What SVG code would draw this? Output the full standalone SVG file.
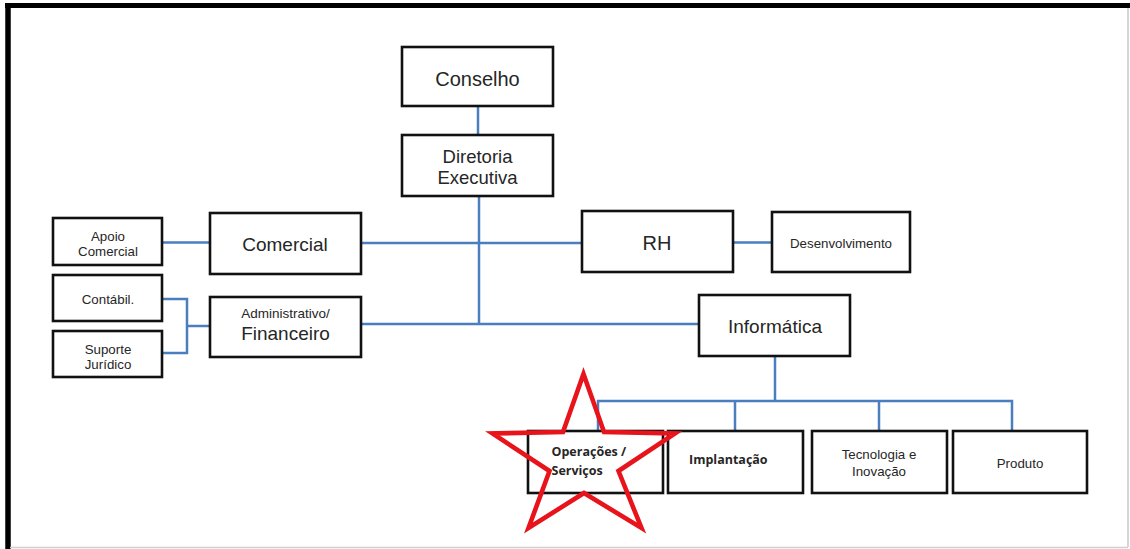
<svg xmlns="http://www.w3.org/2000/svg" width="1130" height="549" viewBox="0 0 1130 549">
<style>
.box{fill:#fff;stroke:#111;stroke-width:2.6}
.t{font-family:"Liberation Sans",Arial,sans-serif;fill:#262626;text-anchor:middle}
.big{font-size:19px}
.sm{font-size:13.3px}
.cb{font-family:"Open Sans","Liberation Sans",sans-serif;font-weight:700;font-size:12.5px;fill:#262626}
.ln{fill:none;stroke:#4a7ebf;stroke-width:2.5}
</style>
<rect x="0" y="0" width="1130" height="549" fill="#fff"/>
<g id="frame">
<line x1="5" y1="5.5" x2="1130" y2="5.5" stroke="#000" stroke-width="5"/>
<line x1="8" y1="3" x2="8" y2="549" stroke="#000" stroke-width="5.5"/>
<line x1="1128" y1="8" x2="1128" y2="547" stroke="#c8c8c8" stroke-width="1.5"/>
<line x1="10" y1="547.5" x2="1128" y2="547.5" stroke="#d0d0d0" stroke-width="1.5"/>
</g>
<g id="connectors">
<line class="ln" x1="478" y1="106" x2="478" y2="135"/>
<line class="ln" x1="479" y1="197" x2="479" y2="324"/>
<line class="ln" x1="361" y1="243" x2="582" y2="243"/>
<line class="ln" x1="361" y1="324" x2="699" y2="324"/>
<line class="ln" x1="162" y1="242.5" x2="210" y2="242.5"/>
<line class="ln" x1="733" y1="242.5" x2="772" y2="242.5"/>
<polyline class="ln" points="162,299 187,299 187,353 162,353"/>
<line class="ln" x1="187" y1="326" x2="210" y2="326"/>
<line class="ln" x1="775" y1="357" x2="775" y2="401"/>
<polyline class="ln" points="598,431 598,401 1012,401 1012,431"/>
<line class="ln" x1="735" y1="401" x2="735" y2="431"/>
<line class="ln" x1="879" y1="401" x2="879" y2="431"/>
</g>
<g id="conselho"><rect class="box" x="402" y="47" width="151" height="59"/><text class="t" x="477.5" y="85.5" font-size="20">Conselho</text></g>
<g id="diretoria"><rect class="box" x="402" y="135" width="151" height="61"/><text class="t" font-size="18.5" x="477.5" y="163">Diretoria</text><text class="t" font-size="18.5" x="477.5" y="184">Executiva</text></g>
<g id="apoio"><rect class="box" x="53" y="218" width="109" height="47"/><text class="t sm" x="108" y="240.6">Apoio</text><text class="t sm" x="108" y="256">Comercial</text></g>
<g id="comercial"><rect class="box" x="210" y="213" width="151" height="61"/><text class="t big" x="285" y="251">Comercial</text></g>
<g id="contabil"><rect class="box" x="53" y="275" width="109" height="46"/><text class="t sm" x="108" y="304">Contábil.</text></g>
<g id="suporte"><rect class="box" x="53" y="331" width="109" height="46"/><text class="t sm" x="108" y="353.5">Suporte</text><text class="t sm" x="108" y="368.6">Jurídico</text></g>
<g id="administrativo"><rect class="box" x="210" y="297" width="151" height="60"/><text class="t" x="285.5" y="318" font-size="13.5">Administrativo/</text><text class="t big" x="285.5" y="339.5">Financeiro</text></g>
<g id="rh"><rect class="box" x="582" y="211" width="151" height="61"/><text class="t" x="657" y="250" font-size="20">RH</text></g>
<g id="desenvolvimento"><rect class="box" x="772" y="212" width="138" height="60"/><text class="t sm" x="841" y="247.5">Desenvolvimento</text></g>
<g id="informatica"><rect class="box" x="699" y="295" width="151" height="61"/><text class="t big" x="775" y="332.5">Informática</text></g>
<g id="operacoes"><rect class="box" x="528" y="431" width="135" height="62"/><text class="cb" x="551.5" y="455.5">Operações /</text><text class="cb" x="551.5" y="474.5">Serviços</text></g>
<g id="implantacao"><rect class="box" x="668" y="431" width="135" height="62"/><text class="cb" x="689" y="463.5">Implantação</text></g>
<g id="tecnologia"><rect class="box" x="812" y="431" width="135" height="62"/><text class="t sm" x="879" y="459">Tecnologia e</text><text class="t sm" x="879" y="476">Inovação</text></g>
<g id="produto"><rect class="box" x="953" y="431" width="134" height="62"/><text class="t sm" x="1020" y="467.8">Produto</text></g>
<g id="star"><polygon points="583.5,374 604,432 675,433.5 618.5,471 641.5,528 584,493 528.5,528 549.5,471 492.5,433.5 563,432" fill="none" stroke="#e8141c" stroke-width="4.6" stroke-linejoin="miter"/></g>
</svg>
